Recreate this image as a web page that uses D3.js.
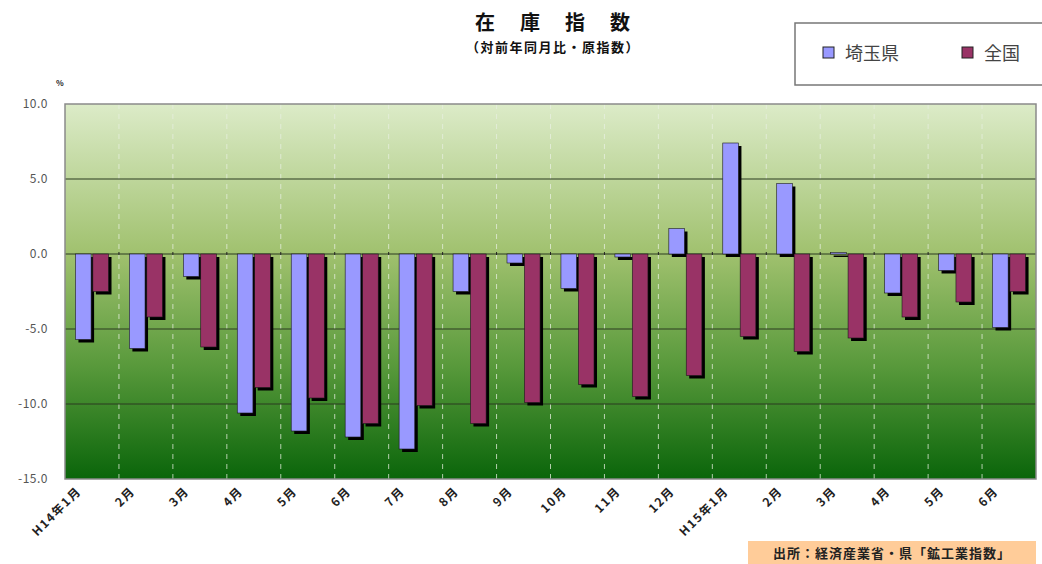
<!DOCTYPE html>
<html>
<head>
<meta charset="utf-8">
<script src="https://cdn.jsdelivr.net/npm/d3@7"></script>
<style>
  body { margin: 0; background: #fff; }
  svg text { font-family: "Noto Sans CJK JP", "Noto Sans", sans-serif; }
</style>
</head>
<body>
<div id="chart"></div>
<script>
// Chart data
let months = ["H14年1月", "2月", "3月", "4月", "5月", "6月", "7月", "8月", "9月", "10月", "11月", "12月",
              "H15年1月", "2月", "3月", "4月", "5月", "6月"]
let seriesNames = ["埼玉県", "全国"]
let saitama = [-5.7, -6.3, -1.5, -10.6, -11.8, -12.2, -13.0, -2.5, -0.6, -2.3, -0.2, 1.7, 7.4, 4.7, 0.1, -2.6, -1.1, -4.9]
let zenkoku = [-2.5, -4.2, -6.2, -8.9, -9.6, -11.3, -10.1, -11.3, -9.9, -8.7, -9.5, -8.1, -5.5, -6.5, -5.6, -4.2, -3.2, -2.5]
let yTicks = [10, 5, 0, -5, -10, -15]
let colours = ["#9999ff", "#993366"]

let width = 1042
let height = 564
let plot = { left: 65, top: 104, right: 1036, bottom: 479 }

let svg = d3.select("#chart").append("svg")
    .attr("width", width)
    .attr("height", height)

// Background gradient of the plot area
let defs = svg.append("defs")
let grad = defs.append("linearGradient").attr("id", "bg")
    .attr("x1", 0).attr("y1", 0).attr("x2", 0).attr("y2", 1)
grad.append("stop").attr("offset", "0%").attr("stop-color", "#dcebc8")
grad.append("stop").attr("offset", "40%").attr("stop-color", "#a0c16e")
grad.append("stop").attr("offset", "70%").attr("stop-color", "#58993b")
grad.append("stop").attr("offset", "100%").attr("stop-color", "#0a650a")

let x = d3.scaleBand()
    .domain(d3.range(months.length))
    .range([plot.left, plot.right])
    .paddingInner(0).paddingOuter(0)

let x1 = d3.scaleBand()
    .domain([0, 1])
    .range([0, x.bandwidth()])
    .paddingInner(0.1).paddingOuter(0.6)

let y = d3.scaleLinear()
    .domain([-15, 10])
    .range([plot.bottom, plot.top])

svg.append("rect")
    .attr("x", plot.left).attr("y", plot.top)
    .attr("width", plot.right - plot.left).attr("height", plot.bottom - plot.top)
    .attr("fill", "url(#bg)")

// Vertical dashed grid at category boundaries
svg.append("g").selectAll("line")
    .data(d3.range(1, months.length))
    .enter().append("line")
    .attr("x1", (i) => x(i)).attr("x2", (i) => x(i))
    .attr("y1", plot.top).attr("y2", plot.bottom)
    .attr("stroke", "#e8efe0")
    .attr("stroke-opacity", 0.75)
    .attr("stroke-dasharray", "5,5")

// Horizontal grid
svg.append("g").selectAll("line")
    .data(yTicks.filter((t) => t > -15 && t < 10))
    .enter().append("line")
    .attr("x1", plot.left).attr("x2", plot.right)
    .attr("y1", (t) => y(t)).attr("y2", (t) => y(t))
    .attr("stroke", "#2a3a20")
    .attr("stroke-width", 1.2)

// Plot frame
svg.append("rect")
    .attr("x", plot.left).attr("y", plot.top)
    .attr("width", plot.right - plot.left).attr("height", plot.bottom - plot.top)
    .attr("fill", "none")
    .attr("stroke", "#8a8a8a")
    .attr("stroke-width", 1.5)

// Y axis labels
let yAxis = d3.axisLeft(y)
    .tickValues(yTicks)
    .tickSize(0)
    .tickPadding(0)
    .tickFormat((d) => d.toFixed(1))
let yg = svg.append("g")
    .attr("transform", "translate(" + 48 + ",0)")
    .call(yAxis)
yg.select(".domain").remove()
yg.selectAll("text")
    .attr("font-size", 12)
    .attr("letter-spacing", 0.5)
    .attr("fill", "#555")

svg.append("text")
    .attr("x", 56).attr("y", 86)
    .attr("font-size", 8)
    .attr("font-weight", "bold")
    .attr("fill", "#222")
    .text("%")

// Bars with drop shadow
let rows = months.map((m, i) => [saitama[i], zenkoku[i]])
let groups = svg.append("g").selectAll("g")
    .data(rows)
    .enter().append("g")
    .attr("transform", (d, i) => "translate(" + x(i) + ",0)")

let shadow = 3
groups.selectAll("rect.shadow")
    .data((d) => d)
    .enter().append("rect")
    .attr("class", "shadow")
    .attr("x", (d, j) => x1(j) + shadow)
    .attr("y", (d) => Math.min(y(d), y(0)) + shadow)
    .attr("width", x1.bandwidth())
    .attr("height", (d) => Math.abs(y(d) - y(0)))
    .attr("fill", "#000")

groups.selectAll("rect.bar")
    .data((d) => d)
    .enter().append("rect")
    .attr("class", "bar")
    .attr("x", (d, j) => x1(j))
    .attr("y", (d) => Math.min(y(d), y(0)))
    .attr("width", x1.bandwidth())
    .attr("height", (d) => Math.abs(y(d) - y(0)))
    .attr("fill", (d, j) => colours[j])
    .attr("stroke", "#1a1a1a")
    .attr("stroke-width", 0.6)

// Small ticks on the zero line
svg.append("g").selectAll("line")
    .data(d3.range(1, months.length))
    .enter().append("line")
    .attr("x1", (i) => x(i)).attr("x2", (i) => x(i))
    .attr("y1", y(0) - 2).attr("y2", y(0) + 1)
    .attr("stroke", "#222")

// X labels rotated
svg.append("g").selectAll("text")
    .data(months)
    .enter().append("text")
    .attr("transform", (d, i) => "translate(" + (x(i) + x.bandwidth() / 2 - 10) + "," + 492 + ") rotate(-45)")
    .attr("text-anchor", "end")
    .attr("font-size", 12)
    .attr("letter-spacing", 1.5)
    .attr("font-weight", "bold")
    .attr("fill", "#222")
    .text((d) => d)

// Title
svg.append("text")
    .attr("x", 565).attr("y", 30)
    .attr("text-anchor", "middle")
    .attr("font-size", 20)
    .attr("font-weight", "bold")
    .attr("letter-spacing", 25)
    .attr("fill", "#111")
    .text("在庫指数")
svg.append("text")
    .attr("x", 553).attr("y", 52)
    .attr("text-anchor", "middle")
    .attr("font-size", 13)
    .attr("letter-spacing", 1.5)
    .attr("font-weight", "bold")
    .attr("fill", "#111")
    .text("（対前年同月比・原指数）")

// Legend
let legend = svg.append("g")
legend.append("rect")
    .attr("x", 795).attr("y", 23)
    .attr("width", 252).attr("height", 62)
    .attr("fill", "#fff")
    .attr("stroke", "#777")
    .attr("stroke-width", 1.5)
let legendX = [823, 962]
seriesNames.forEach((name, j) => {
  legend.append("rect")
      .attr("x", legendX[j]).attr("y", 47)
      .attr("width", 11).attr("height", 11)
      .attr("fill", colours[j])
      .attr("stroke", "#222")
  legend.append("text")
      .attr("x", legendX[j] + 22).attr("y", 60)
      .attr("font-size", 18)
      .attr("fill", "#444")
      .text(name)
})

// Source box
svg.append("rect")
    .attr("x", 748).attr("y", 541)
    .attr("width", 288).attr("height", 23)
    .attr("fill", "#ffcc99")
svg.append("text")
    .attr("x", 892).attr("y", 558)
    .attr("text-anchor", "middle")
    .attr("font-size", 13)
    .attr("letter-spacing", 1)
    .attr("font-weight", "bold")
    .attr("fill", "#222")
    .text("出所：経済産業省・県「鉱工業指数」")
</script>
</body>
</html>
